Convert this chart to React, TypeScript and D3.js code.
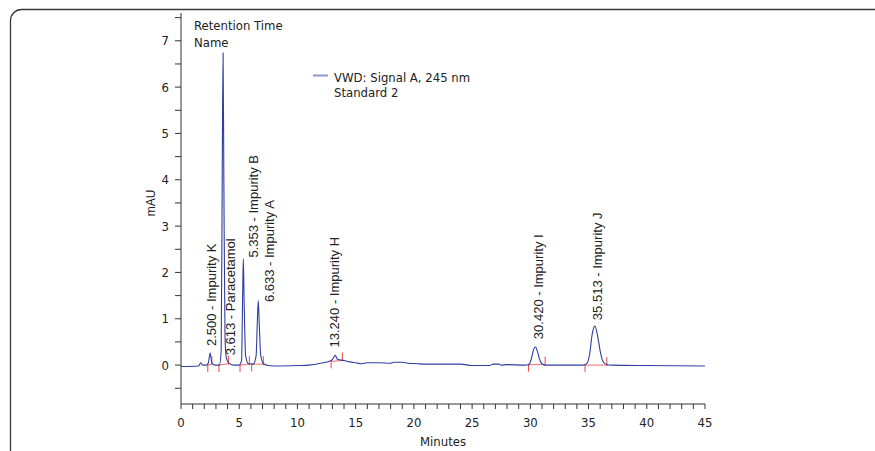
import React from "react";
import * as d3 from "d3";

// ---- data ----
const signalTime = [
  0, 1.5, 1.7, 1.85, 2.2, 2.35, 2.5, 2.65, 2.9, 3.3, 3.45, 3.55, 3.613, 3.68, 3.78, 3.9, 4.1, 4.5,
  5.0, 5.2, 5.3, 5.353, 5.42, 5.55, 5.8, 6.2, 6.45, 6.55, 6.633, 6.72, 6.85, 7.1, 7.5, 8, 10, 11,
  12, 12.8, 13.0, 13.24, 13.45, 14, 14.5, 15, 15.5, 16, 17, 18, 18.3, 19, 19.5, 20.3, 21, 22, 24,
  25, 26.5, 26.8, 27.3, 27.5, 28, 29.5, 29.9, 30.1, 30.3, 30.45, 30.6, 30.8, 31, 31.3, 33, 34.6,
  34.9, 35.1, 35.3, 35.55, 35.8, 36.0, 36.2, 36.5, 37, 40, 45,
];
const signalValue = [
  -0.03, -0.02, 0.05, 0.0, 0.0, 0.05, 0.26, 0.05, 0.0, 0.0, 0.3, 4.5, 6.74, 4.0, 0.6, 0.15, 0.05, 0.0,
  0.0, 0.1, 1.6, 2.3, 1.4, 0.2, 0.03, 0.02, 0.2, 0.9, 1.4, 0.9, 0.2, 0.03, -0.01, -0.02, -0.01, 0.0,
  0.04, 0.09, 0.12, 0.21, 0.12, 0.1, 0.07, 0.05, 0.03, 0.05, 0.05, 0.04, 0.06, 0.06, 0.04, 0.03, 0.02, 0.02, 0.02,
  -0.01, -0.01, 0.02, 0.02, 0.0, 0.01, 0.0, 0.02, 0.15, 0.35, 0.39, 0.3, 0.12, 0.03, 0.0, 0.0, 0.0,
  0.05, 0.25, 0.65, 0.84, 0.6, 0.3, 0.1, 0.02, 0.0, -0.01, -0.02,
];

const peakNames = [
  "2.500 - Impurity K",
  "3.613 - Paracetamol",
  "5.353 - Impurity B",
  "6.633 - Impurity A",
  "13.240 - Impurity H",
  "30.420 - Impurity I",
  "35.513 - Impurity J",
];
const labelTime = [3.0, 4.62, 6.6, 8.0, 13.57, 31.07, 36.17];
const labelLevel = [0.41, 0.21, 2.32, 1.36, 0.38, 0.56, 0.97];

const intStart = [2.3, 3.26, 5.07, 6.07, 12.89, 29.84, 34.7];
const intEnd = [2.65, 4.07, 5.87, 7.07, 13.86, 31.27, 36.57];
const intStartLevel = [0.0, 0.0, 0.0, 0.02, 0.08, 0.01, 0.0];
const intEndLevel = [0.02, 0.03, 0.02, 0.02, 0.1, 0.01, 0.0];

const xTicksMajor = [0, 5, 10, 15, 20, 25, 30, 35, 40, 45];
const yTicksMajor = [0, 1, 2, 3, 4, 5, 6, 7];

const yAxisTitle = "mAU";
const xAxisTitle = "Minutes";
const headerLines = ["Retention Time", "Name"];
const legendLines = ["VWD: Signal A, 245 nm", "Standard 2"];

export default function App() {
  const W = 875;
  const H = 451;
  const x = d3.scaleLinear().domain([0, 45]).range([181, 705]);
  const y = d3.scaleLinear().domain([-0.84, 7.6]).range([404, 13]);

  const pts: [number, number][] = signalTime.map((t, i) => [t, signalValue[i]]);
  const line = d3
    .line<[number, number]>()
    .x((d) => x(d[0]))
    .y((d) => y(d[1]))
    .curve(d3.curveMonotoneX);

  const minorX = d3.range(0, 46, 1);
  const minorY = d3.range(-0.5, 7.6, 0.5);

  const condensed = "'DejaVu Sans Condensed', 'Liberation Sans Narrow', sans-serif";
  const regular = "'Liberation Sans', Arial, sans-serif";
  const axisColor = "#333";
  const red = "#e8484a";

  return (
    <svg
      width={W}
      height={H}
      style={{ position: "absolute", left: 0, top: 0, background: "#fff" }}
    >
      {/* frame */}
      <rect x={10.5} y={9.5} width={900} height={500} rx={11} ry={11} fill="none" stroke="#3a3a3a" strokeWidth={1.3} />

      {/* y axis */}
      <line x1={181} x2={181} y1={y(7.6)} y2={y(-0.84)} stroke={axisColor} strokeWidth={1} />
      {minorY.map((v) => (
        <line key={"yt" + v} x1={175} x2={181} y1={y(v)} y2={y(v)} stroke={axisColor} strokeWidth={1} />
      ))}
      {yTicksMajor.map((v) => (
        <text key={"yl" + v} x={169} y={y(v)} dy="0.36em" textAnchor="end" fontFamily={condensed} fontSize={13} fill="#222">
          {v}
        </text>
      ))}
      <text
        transform={`translate(155, ${y(3.5)}) rotate(-90)`}
        textAnchor="middle"
        fontFamily={regular}
        fontSize={12}
        fill="#222"
      >
        {yAxisTitle}
      </text>

      {/* x axis */}
      <line x1={x(0)} x2={x(45)} y1={404} y2={404} stroke={axisColor} strokeWidth={1} />
      {minorX.map((v) => (
        <line key={"xt" + v} x1={x(v)} x2={x(v)} y1={404} y2={409} stroke={axisColor} strokeWidth={1} />
      ))}
      {xTicksMajor.map((v) => (
        <text key={"xl" + v} x={x(v)} y={427} textAnchor="middle" fontFamily={condensed} fontSize={13} fill="#222">
          {v}
        </text>
      ))}
      <text x={x(22.5)} y={446} textAnchor="middle" fontFamily={condensed} fontSize={13} fill="#222">
        {xAxisTitle}
      </text>

      {/* header */}
      {headerLines.map((s, i) => (
        <text key={s} x={194} y={30 + i * 16.5} fontFamily={condensed} fontSize={13} fill="#222">
          {s}
        </text>
      ))}

      {/* legend */}
      <line x1={313} x2={328} y1={75.5} y2={75.5} stroke="#8d97cf" strokeWidth={2} />
      {legendLines.map((s, i) => (
        <text key={s} x={334} y={81.5 + i * 15} fontFamily={condensed} fontSize={13} fill="#222">
          {s}
        </text>
      ))}

      {/* integration baselines and ticks */}
      {intStart.map((s, i) => (
        <g key={"int" + i} stroke={red} strokeWidth={1}>
          <line x1={x(s)} x2={x(intEnd[i])} y1={y(intStartLevel[i])} y2={y(intEndLevel[i])} opacity={0.8} />
          <line x1={x(s)} x2={x(s)} y1={y(intStartLevel[i]) - 1} y2={y(intStartLevel[i]) + 7} />
          <line x1={x(intEnd[i])} x2={x(intEnd[i])} y1={y(intEndLevel[i]) + 1} y2={y(intEndLevel[i]) - 8} />
        </g>
      ))}

      {/* signal */}
      <path d={line(pts) || ""} fill="none" stroke="#2f3ea0" strokeWidth={1.1} strokeLinejoin="round" />

      {/* peak labels */}
      {peakNames.map((s, i) => (
        <text
          key={s}
          transform={`translate(${x(labelTime[i])}, ${y(labelLevel[i])}) rotate(-90)`}
          fontFamily={regular}
          fontSize={13}
          fill="#222"
        >
          {s}
        </text>
      ))}
    </svg>
  );
}
